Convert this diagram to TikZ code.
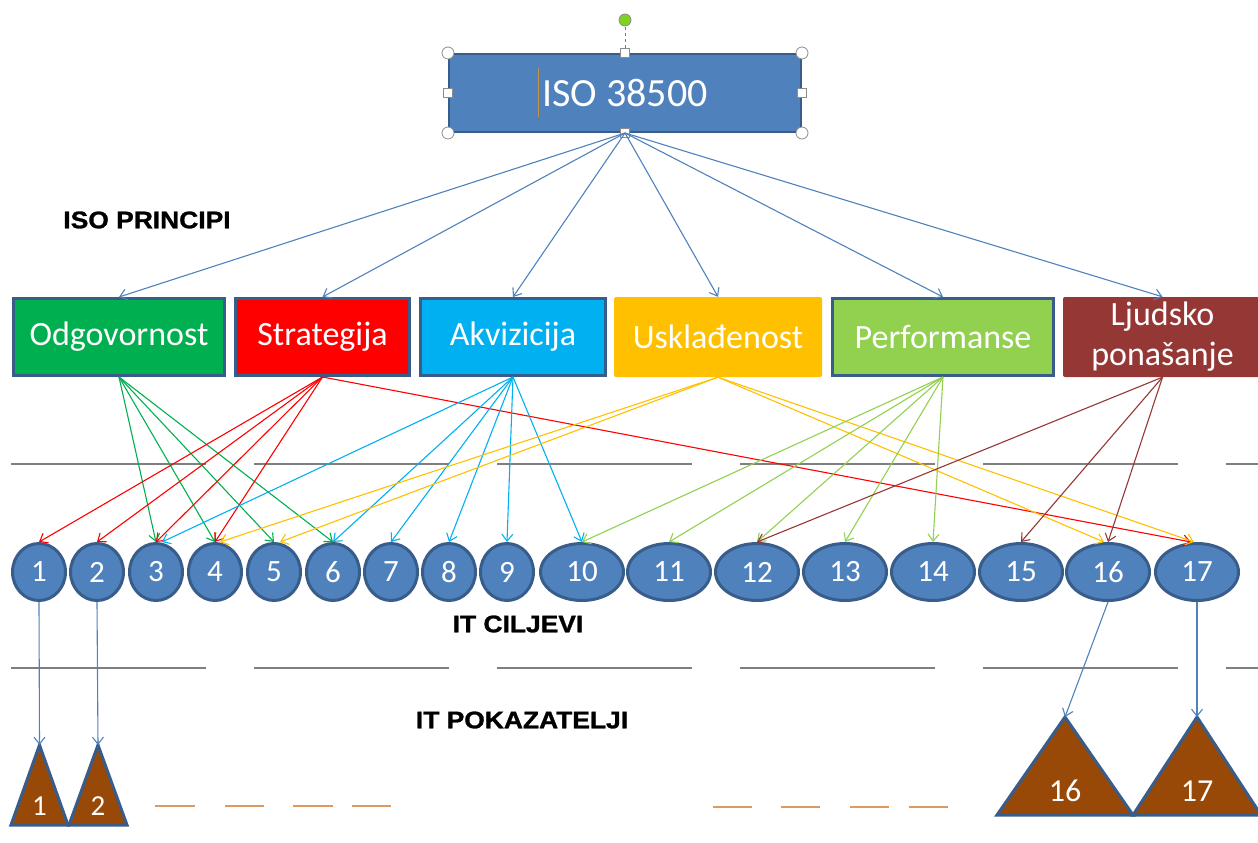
\documentclass[tikz,border=0pt]{standalone}
\usepackage{fontspec}
\setmainfont{Carlito}
\newfontfamily\labfont[BoldFeatures={FakeBold=1.2}]{Liberation Sans}
\usetikzlibrary{arrows.meta,shapes.geometric}
\definecolor{isoblue}{HTML}{4F81BD}
\definecolor{isoborder}{HTML}{385D8A}
\definecolor{cgreen}{HTML}{00B050}
\definecolor{cred}{HTML}{FF0000}
\definecolor{ccyan}{HTML}{00B0F0}
\definecolor{cgold}{HTML}{FFC000}
\definecolor{clgreen}{HTML}{92D050}
\definecolor{cbrown}{HTML}{953735}
\definecolor{tribrown}{HTML}{984807}
\definecolor{dashorange}{HTML}{DE9A5E}
\definecolor{sepgray}{HTML}{7F7F7F}
\definecolor{handlegray}{HTML}{8C8C8C}
\definecolor{handlegreen}{HTML}{7ED321}
\definecolor{cursorcol}{HTML}{C0904D}
\begin{document}
\begin{tikzpicture}[x=1pt,y=-1pt,
  arr/.style={line width=1.1pt,-{Straight Barb[length=7pt,width=11pt]}},
  pbox/.style={rectangle,minimum height=77pt,text=white,font=\fontsize{34}{40}\selectfont,inner sep=0pt,align=center},
  bordered/.style={draw=isoborder,line width=3pt},
  gs/.style={ellipse,fill=isoblue,draw=isoborder,line width=3pt,minimum width=53pt,minimum height=57pt,inner sep=0pt,text=white,font=\fontsize{31}{36}\selectfont},
  gl/.style={gs,minimum width=83pt},
  sep/.style={draw=sepgray,line width=2pt,dash pattern=on 195pt off 48pt},
  tri/.style={draw=isoborder,line width=3pt,fill=tribrown,line join=miter},
  trilab/.style={text=white,inner sep=0pt},
  lab/.style={font=\labfont\bfseries\fontsize{24}{28}\selectfont,xscale=1.1,inner sep=0pt},
  odash/.style={draw=dashorange,line width=1.6pt},
  hcirc/.style={circle,draw=handlegray,fill=white,line width=0.8pt,minimum size=12pt,inner sep=0pt},
  hsq/.style={rectangle,draw=handlegray,fill=white,line width=0.8pt,minimum size=9pt,inner sep=0pt}
]
\useasboundingbox (0,0) rectangle (1258,843);

% separators
\draw[sep] (11,464) -- (1262,464);
\draw[sep] (11,668) -- (1262,668);

% top node
\node[rectangle,fill=isoblue,draw=isoborder,line width=2.5pt,minimum width=352pt,minimum height=78pt,text=white,font=\fontsize{40}{48}\selectfont,inner sep=0pt] (iso) at (625,93) {ISO 38500};
\draw[cursorcol,line width=1pt] (538,68) -- (538,117);
\draw[isoblue,line width=1pt,dashed] (625,27) -- (625,48);
\node[hcirc,fill=handlegreen] (hrot) at (625,20) {};
\node[hcirc] (hnw) at (448,53) {};
\node[hcirc] (hne) at (802,53) {};
\node[hcirc] (hsw) at (448,133) {};
\node[hcirc] (hse) at (802,133) {};
\node[hsq] (hn) at (625,53) {};
\node[hsq] (hw) at (448,93) {};
\node[hsq] (he) at (802,93) {};

% principles
\node[pbox,bordered,fill=cgreen,minimum width=211pt] (odg) at (119,337) {Odgovornost};
\node[pbox,bordered,fill=cred,minimum width=174pt] (str) at (322.5,337) {Strategija};
\node[pbox,bordered,fill=ccyan,minimum width=185pt] (akv) at (513,337) {Akvizicija};
\node[pbox,fill=cgold,minimum width=208pt,minimum height=80pt,rounded corners=2pt] (usk) at (718,337) {Usklađenost};
\node[pbox,bordered,fill=clgreen,minimum width=221pt] (per) at (943,337) {Performanse};
\node[pbox,fill=cbrown,minimum width=199pt,minimum height=80pt,rounded corners=2pt] (lju) at (1162.5,337) {Ljudsko\\ponašanje};

\node[hsq] (hs) at (625,133) {};
\foreach \t in {odg,str,akv,usk,per,lju}
  \draw[arr,isoblue] (hs.center) -- (\t.north);

% labels
\node[lab] (lp) at (147,220) {ISO PRINCIPI};
\node[lab] (lc) at (518,624) {IT CILJEVI};
\node[lab] (lk) at (522,720) {IT POKAZATELJI};

% goals
\foreach \i/\x in {1/39,2/97,3/156,4/215,5/274,6/333,7/391,8/449,9/507}
  \node[gs] (e\i) at (\x,572) {\i};
\foreach \i/\x in {10/582,11/669,12/757,13/845,14/933,15/1021,16/1108,17/1197}
  \node[gl] (e\i) at (\x,572) {\i};

% principle -> goal arrows
\foreach \g in {3,4,5,6} \draw[arr,cgreen] (odg.south) -- (e\g.north);
\foreach \g in {1,2,3,4} \draw[arr,cred] (str.south) -- (e\g.north);
\draw[arr,cred] (str.south) -- ([xshift=-6pt]e17.north);
\draw[arr,ccyan] (akv.south) -- ([xshift=6pt]e3.north);
\foreach \g in {6,7,8,9,10} \draw[arr,ccyan] (akv.south) -- (e\g.north);
\draw[arr,cgold] (usk.south) -- ([xshift=5pt]e4.north);
\draw[arr,cgold] (usk.south) -- ([xshift=6pt]e5.north);
\draw[arr,cgold] (usk.south) -- ([xshift=-4pt]e16.north);
\draw[arr,cgold] (usk.south) -- ([xshift=-3pt]e17.north);
\foreach \g in {10,11,12,13,14} \draw[arr,clgreen] (per.south) -- (e\g.north);
\foreach \g in {12,15,16} \draw[arr,cbrown] (lju.south) -- (e\g.north);

% indicators
\coordinate (t1) at (39.5,745);
\coordinate (t2) at (98,745);
\coordinate (t16) at (1065,717);
\coordinate (t17) at (1197,717);
\draw[tri] (t1) -- (68,825) -- (11,825) -- cycle;
\draw[tri] (t2) -- (127,825) -- (69,825) -- cycle;
\draw[tri] (t16) -- (1133,815) -- (997,815) -- cycle;
\draw[tri] (t17) -- (1261,815) -- (1133,815) -- cycle;
\node[trilab,font=\fontsize{29}{34}\selectfont] (n1) at (39.5,806) {1};
\node[trilab,font=\fontsize{29}{34}\selectfont] (n2) at (98,806) {2};
\node[trilab,font=\fontsize{32}{38}\selectfont] (n16) at (1065,791) {16};
\node[trilab,font=\fontsize{32}{38}\selectfont] (n17) at (1197,791) {17};

\draw[arr,isoblue] (e1.south) -- (t1);
\draw[arr,isoblue] (e2.south) -- (t2);
\draw[arr,isoblue] (e16.south) -- (t16);
\draw[arr,isoblue] (e17.south) -- (t17);

% orange dashes
\draw[odash] (155,806) -- (195,806);
\draw[odash] (225,806) -- (264,806);
\draw[odash] (293,806) -- (333,806);
\draw[odash] (352,806) -- (391,806);
\draw[odash] (713,807) -- (752,807);
\draw[odash] (781,807) -- (820,807);
\draw[odash] (850,807) -- (889,807);
\draw[odash] (909,807) -- (948,807);
\end{tikzpicture}
\end{document}
